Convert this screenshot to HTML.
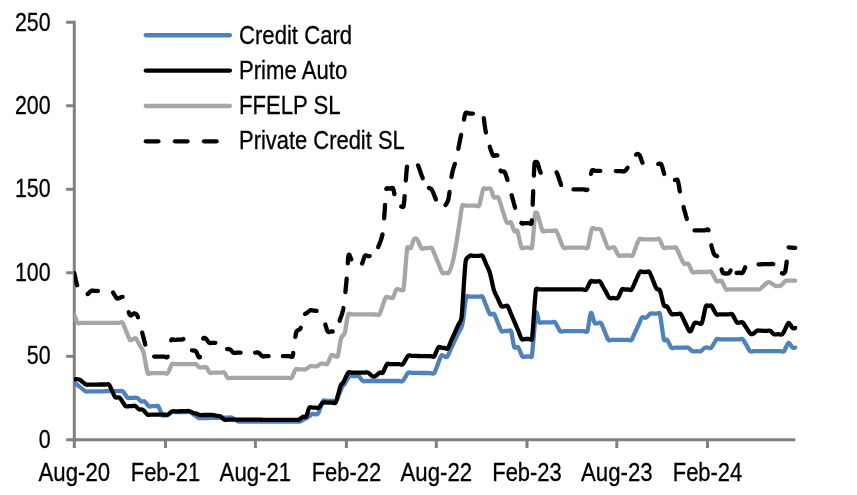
<!DOCTYPE html>
<html lang="en"><head><meta charset="utf-8"><title>ABS spreads</title>
<style>
html,body{margin:0;padding:0;background:#fff;}
svg{display:block;will-change:transform;}
text{font-family:"Liberation Sans",sans-serif;font-size:26.5px;fill:#000;stroke:#000;stroke-width:0.3px;}
</style></head><body>
<svg width="857" height="495" viewBox="0 0 857 495">
<rect width="857" height="495" fill="#fff"/>
<g stroke="#808080" stroke-width="3" fill="none">
<line x1="74.3" y1="20.75" x2="74.3" y2="448"/>
<line x1="66.2" y1="439.8" x2="795.3" y2="439.8"/>
<line x1="66.2" y1="22.25" x2="74.3" y2="22.25"/>
<line x1="66.2" y1="105.76" x2="74.3" y2="105.76"/>
<line x1="66.2" y1="189.27" x2="74.3" y2="189.27"/>
<line x1="66.2" y1="272.78" x2="74.3" y2="272.78"/>
<line x1="66.2" y1="356.29" x2="74.3" y2="356.29"/>
<line x1="165.50" y1="439.8" x2="165.50" y2="448"/>
<line x1="255.40" y1="439.8" x2="255.40" y2="448"/>
<line x1="346.40" y1="439.8" x2="346.40" y2="448"/>
<line x1="436.30" y1="439.8" x2="436.30" y2="448"/>
<line x1="527.00" y1="439.8" x2="527.00" y2="448"/>
<line x1="616.80" y1="439.8" x2="616.80" y2="448"/>
<line x1="707.50" y1="439.8" x2="707.50" y2="448"/>
</g>
<clipPath id="plot"><rect x="74" y="0" width="783" height="495"/></clipPath>
<g fill="none" stroke-linejoin="round" stroke-linecap="round" stroke-width="4.3" clip-path="url(#plot)">
<path stroke="#4F81BD" d="M74.3,382.6C75.0,383.1 77.1,384.8 78.4,385.8C79.7,386.8 80.8,387.6 82.0,388.6C83.2,389.5 84.4,390.8 85.6,391.3C86.8,391.8 87.8,391.3 89.0,391.3C90.1,391.3 91.2,391.3 92.3,391.3C93.4,391.3 94.5,391.3 95.7,391.3C96.8,391.3 97.9,391.3 99.0,391.3C100.1,391.3 101.3,391.3 102.4,391.3C103.5,391.3 104.6,391.2 105.7,391.2C106.8,391.2 108.0,391.2 109.1,391.2C110.2,391.2 111.3,391.2 112.4,391.2C113.6,391.2 114.7,391.2 115.8,391.2C116.9,391.2 118.0,391.2 119.1,391.2C120.3,391.2 121.5,390.7 122.5,391.2C123.5,391.7 124.3,393.4 125.2,394.5C126.0,395.6 126.8,397.2 127.8,397.8C128.8,398.4 129.9,397.8 130.9,397.8C132.0,397.8 133.0,397.8 134.1,397.8C135.1,397.8 136.0,397.2 137.2,397.8C138.4,398.4 140.2,400.9 141.4,401.5C142.6,402.1 143.4,400.7 144.6,401.5C145.8,402.3 147.6,405.4 148.8,406.2C150.0,407.0 150.9,406.2 151.9,406.2C153.0,406.2 154.0,406.2 155.1,406.2C156.1,406.2 157.2,405.0 158.2,406.2C159.4,407.7 161.3,413.7 162.4,415.2C163.2,416.3 164.2,415.2 165.1,415.2C165.9,415.2 166.6,415.7 167.7,415.2C168.8,414.7 170.6,412.5 171.9,412.0C173.2,411.5 174.3,412.0 175.5,412.0C176.6,412.0 177.8,412.0 179.0,412.0C180.2,412.0 181.4,412.0 182.6,412.0C183.8,412.0 185.0,412.0 186.1,412.0C187.3,412.0 188.6,411.7 189.7,412.0C190.8,412.3 191.8,413.4 192.9,414.0C193.9,414.7 195.0,415.4 196.0,416.1C197.1,416.7 198.1,417.8 199.2,418.1C200.3,418.4 201.6,418.1 202.8,418.0C204.0,418.0 205.2,418.0 206.4,418.0C207.6,418.0 208.8,418.0 210.0,417.9C211.2,417.9 212.4,417.9 213.6,417.9C214.8,417.9 215.9,417.8 217.1,417.8C218.3,417.8 219.5,417.8 220.7,417.8C221.9,417.7 223.1,417.7 224.3,417.7C225.5,417.7 226.7,417.7 227.9,417.7C229.1,417.6 230.3,417.3 231.5,417.6C232.7,417.9 233.8,418.9 235.0,419.6C236.2,420.2 237.3,421.2 238.5,421.5C239.7,421.8 240.8,421.5 241.9,421.5C243.0,421.5 244.2,421.5 245.3,421.5C246.5,421.5 247.6,421.5 248.7,421.5C249.9,421.5 251.0,421.5 252.1,421.5C253.3,421.5 254.4,421.5 255.6,421.5C256.7,421.5 257.8,421.5 259.0,421.5C260.1,421.5 261.2,421.5 262.4,421.5C263.5,421.5 264.7,421.5 265.8,421.5C266.9,421.5 268.1,421.5 269.2,421.5C270.3,421.5 271.5,421.5 272.6,421.5C273.7,421.5 274.9,421.5 276.0,421.5C277.2,421.5 278.3,421.5 279.4,421.5C280.6,421.5 281.7,421.5 282.8,421.5C284.0,421.5 285.1,421.5 286.3,421.5C287.4,421.5 288.5,421.5 289.7,421.5C290.8,421.5 291.9,421.5 293.1,421.5C294.2,421.5 295.4,421.5 296.5,421.5C297.6,421.5 298.7,421.8 299.9,421.5C301.1,421.2 302.3,420.2 303.5,419.6C304.8,419.0 306.1,418.3 307.2,417.7C308.2,417.1 309.0,416.4 309.9,415.8C310.7,415.2 311.2,414.2 312.5,413.9C313.8,413.6 316.4,415.0 317.7,413.9C319.0,412.8 319.5,409.6 320.4,407.4C321.2,405.2 322.0,402.0 323.0,400.9C324.0,399.8 325.2,400.9 326.3,400.9C327.4,400.9 328.5,400.9 329.6,400.9C330.8,400.9 331.9,400.9 333.0,400.9C334.1,400.9 335.2,402.1 336.3,400.9C337.4,399.7 338.3,396.1 339.4,393.7C340.4,391.3 341.6,388.1 342.4,386.5C343.1,385.2 343.5,385.5 344.4,384.2C345.6,382.5 348.2,377.5 349.6,376.1C350.7,375.0 351.6,376.1 352.6,376.1C353.6,376.1 354.7,376.1 355.7,376.1C356.7,376.1 357.5,375.3 358.7,376.1C359.9,376.9 361.6,380.2 362.9,381.0C364.2,381.8 365.3,381.0 366.5,381.0C367.7,381.0 368.9,381.0 370.2,381.0C371.4,381.0 372.6,381.0 373.8,381.0C375.0,381.0 376.2,381.0 377.4,381.0C378.6,381.0 379.8,381.0 381.0,381.0C382.2,381.0 383.5,381.0 384.7,381.0C385.9,381.0 387.1,381.0 388.3,381.0C389.5,381.0 390.7,381.0 391.9,381.0C393.1,381.0 394.3,381.0 395.5,381.0C396.8,381.0 398.0,381.0 399.2,381.0C400.4,381.0 401.5,382.2 402.8,381.0C404.3,379.6 406.6,374.2 408.0,372.8C409.2,371.7 410.2,372.8 411.3,372.8C412.4,372.9 413.5,372.9 414.6,372.9C415.6,372.9 416.7,372.9 417.8,372.9C418.9,372.9 420.0,372.9 421.1,373.0C422.2,373.0 423.3,373.0 424.4,373.0C425.5,373.0 426.6,373.0 427.6,373.0C428.7,373.0 429.8,373.1 430.9,373.1C432.0,373.1 433.2,374.4 434.2,373.1C435.3,371.7 436.6,367.3 437.8,364.4C438.9,361.5 440.2,357.1 441.3,355.7C442.2,354.5 443.3,356.0 444.2,356.2C445.2,356.4 446.2,357.8 447.2,356.7C448.3,355.4 449.7,351.3 451.0,348.6C452.3,345.9 453.5,343.2 454.8,340.4C456.1,337.7 457.3,335.0 458.6,332.3C459.9,329.6 461.5,328.6 462.4,324.2C463.7,318.3 465.1,301.3 466.3,296.7C466.7,295.1 468.5,296.7 469.5,296.7C470.6,296.7 471.7,296.7 472.8,296.7C473.9,296.7 474.9,296.7 476.0,296.7C477.1,296.7 478.2,296.7 479.3,296.7C480.3,296.7 481.5,295.4 482.5,296.7C483.6,298.1 484.9,302.5 486.1,305.4C487.4,308.2 488.5,312.6 489.8,314.0C491.1,315.4 492.7,312.6 494.0,314.0C495.3,315.4 496.5,319.7 497.7,322.5C498.9,325.3 500.2,329.6 501.4,331.0C502.4,332.2 503.5,331.0 504.6,331.0C505.7,331.0 506.7,331.0 507.8,331.0C508.9,331.0 510.4,329.5 511.0,331.0C512.1,333.7 513.2,344.6 514.4,347.3C515.2,349.0 517.0,345.9 518.2,347.3C519.5,348.8 521.2,355.0 522.4,356.5C523.4,357.7 524.5,356.5 525.5,356.5C526.6,356.5 527.6,356.5 528.7,356.5C529.7,356.5 531.5,358.0 531.8,356.5C533.0,349.3 534.8,319.2 536.0,313.5C537.0,308.9 538.1,320.8 539.2,322.3C540.1,323.6 541.3,322.3 542.4,322.3C543.4,322.3 544.5,322.3 545.5,322.3C546.6,322.3 547.6,322.3 548.7,322.3C549.7,322.3 550.8,322.3 551.8,322.3C552.9,322.3 553.9,321.1 555.0,322.3C556.4,323.8 558.8,329.7 560.2,331.2C561.4,332.4 562.5,331.2 563.6,331.2C564.7,331.2 565.9,331.2 567.0,331.2C568.1,331.2 569.3,331.2 570.4,331.2C571.5,331.2 572.7,331.2 573.8,331.2C574.9,331.2 576.1,331.2 577.2,331.2C578.3,331.2 579.5,331.2 580.6,331.2C581.7,331.2 582.9,331.2 584.0,331.2C585.1,331.2 586.8,332.8 587.4,331.2C588.5,328.2 589.7,314.4 590.9,313.0C592.1,311.6 593.5,321.4 594.7,323.1C595.6,324.4 596.8,323.1 597.9,323.1C598.9,323.1 600.0,321.9 601.0,323.1C602.1,324.5 603.5,328.7 604.7,331.5C605.9,334.3 607.2,338.5 608.4,339.9C609.5,341.2 610.6,339.9 611.7,339.9C612.8,339.9 613.9,339.9 615.0,339.9C616.1,339.9 617.2,339.9 618.3,339.9C619.4,339.9 620.5,339.9 621.6,339.9C622.7,339.9 623.8,339.9 624.9,339.9C626.0,339.9 627.1,339.9 628.2,339.9C629.3,339.9 630.4,341.1 631.5,339.9C632.6,338.7 633.8,334.9 635.0,332.5C636.2,330.0 637.3,327.5 638.5,325.0C639.7,322.6 640.7,318.8 642.0,317.6C643.3,316.4 644.8,318.3 646.2,317.6C647.6,316.9 649.2,314.3 650.4,313.6C651.6,312.9 652.5,313.6 653.5,313.6C654.6,313.6 655.6,313.6 656.7,313.6C657.7,313.6 659.4,312.1 659.8,313.6C661.0,318.0 662.8,335.5 664.0,339.9C664.4,341.4 666.1,338.7 667.2,339.9C668.4,341.2 670.1,346.4 671.4,347.7C672.6,348.9 673.6,347.7 674.8,347.7C675.9,347.7 677.0,347.7 678.1,347.7C679.2,347.7 680.4,347.7 681.5,347.7C682.6,347.7 683.7,347.7 684.8,347.7C686.0,347.7 686.9,347.1 688.2,347.7C689.5,348.3 691.0,350.6 692.4,351.2C693.8,351.8 695.2,351.2 696.6,351.2C698.0,351.2 699.4,351.8 700.8,351.2C702.2,350.6 703.8,348.3 705.0,347.7C706.2,347.1 707.1,347.7 708.1,347.7C709.2,347.7 710.2,348.8 711.3,347.7C712.7,346.3 715.1,340.7 716.5,339.3C717.7,338.1 718.7,339.3 719.8,339.3C720.9,339.3 722.0,339.3 723.1,339.3C724.2,339.3 725.3,339.3 726.4,339.3C727.5,339.3 728.6,339.3 729.6,339.3C730.7,339.3 731.8,339.3 732.9,339.3C734.0,339.3 735.1,339.3 736.2,339.3C737.3,339.3 738.4,339.3 739.5,339.3C740.6,339.3 741.6,338.3 742.8,339.3C744.0,340.3 745.2,343.3 746.5,345.2C747.7,347.2 748.9,350.2 750.1,351.2C751.3,352.2 752.4,351.2 753.5,351.2C754.6,351.2 755.8,351.2 756.9,351.2C758.0,351.2 759.1,351.2 760.3,351.2C761.4,351.2 762.5,351.2 763.7,351.2C764.8,351.2 765.9,351.2 767.0,351.2C768.2,351.2 769.3,351.2 770.4,351.2C771.6,351.2 772.7,351.2 773.8,351.2C775.0,351.2 776.1,351.2 777.2,351.2C778.4,351.2 779.5,351.2 780.6,351.2C781.7,351.2 782.8,352.4 784.0,351.2C785.3,349.8 787.1,343.5 788.5,342.9C789.9,342.3 791.3,346.8 792.4,347.6C793.5,348.4 794.7,347.6 795.2,347.6"/>
<path stroke="#000" d="M74.3,379.3C75.1,379.3 77.9,379.0 79.3,379.5C80.7,380.0 81.6,381.2 82.8,382.1C83.9,382.9 85.1,384.2 86.2,384.6C87.3,385.0 88.4,384.6 89.4,384.6C90.5,384.6 91.6,384.6 92.7,384.6C93.8,384.6 94.8,384.6 95.9,384.6C97.0,384.6 98.1,384.5 99.2,384.5C100.3,384.5 101.3,384.5 102.4,384.5C103.5,384.5 104.6,384.5 105.7,384.5C106.7,384.5 107.8,383.5 108.9,384.5C110.0,385.5 111.0,388.7 112.1,390.8C113.1,392.9 114.0,396.0 115.2,397.1C116.4,398.2 118.2,396.7 119.4,397.5C120.6,398.3 121.5,400.4 122.6,401.9C123.6,403.3 124.6,405.5 125.7,406.2C126.8,406.9 127.8,406.2 128.9,406.1C130.0,406.1 131.0,406.1 132.1,406.1C133.2,406.0 134.1,405.4 135.3,406.0C136.5,406.6 137.9,408.8 139.2,409.4C140.4,410.0 141.4,408.8 142.8,409.7C144.2,410.6 146.1,413.8 147.4,414.6C148.7,415.4 149.7,414.6 150.8,414.6C151.9,414.6 153.0,414.6 154.2,414.6C155.3,414.6 156.4,414.6 157.6,414.6C158.7,414.6 159.8,414.6 160.9,414.6C162.1,414.6 163.2,414.6 164.3,414.6C165.4,414.6 166.4,415.1 167.7,414.6C169.0,414.1 170.6,411.9 171.9,411.4C173.2,410.9 174.2,411.4 175.3,411.3C176.5,411.3 177.6,411.3 178.8,411.3C179.9,411.3 181.1,411.2 182.2,411.2C183.4,411.2 184.5,411.2 185.7,411.2C186.8,411.1 187.7,410.8 189.1,411.1C190.5,411.4 192.8,412.8 194.0,413.2C195.1,413.6 195.5,413.2 196.4,413.5C197.3,413.8 198.4,414.8 199.5,415.0C200.6,415.2 201.7,415.0 202.8,415.0C203.9,415.0 205.0,415.0 206.1,415.0C207.2,415.0 208.3,415.0 209.4,415.0C210.5,415.0 211.5,414.9 212.7,415.0C213.8,415.1 215.1,415.6 216.3,415.8C217.5,416.0 218.7,415.7 220.1,416.3C221.5,416.9 223.2,419.1 224.5,419.7C225.8,420.3 226.9,419.7 228.0,419.7C229.2,419.7 230.4,419.7 231.6,419.7C232.8,419.7 233.9,419.7 235.1,419.7C236.3,419.7 237.5,419.7 238.7,419.7C239.8,419.7 241.0,419.7 242.2,419.7C243.4,419.7 244.5,419.7 245.7,419.7C246.9,419.7 248.1,419.7 249.3,419.7C250.4,419.7 251.6,419.7 252.8,419.7C254.0,419.7 255.2,419.7 256.3,419.7C257.5,419.7 258.7,419.7 259.9,419.7C261.1,419.7 262.2,419.8 263.4,419.8C264.6,419.8 265.8,419.8 267.0,419.8C268.1,419.8 269.3,419.8 270.5,419.8C271.7,419.8 272.9,419.8 274.0,419.8C275.2,419.8 276.4,419.8 277.6,419.8C278.8,419.8 279.9,419.8 281.1,419.8C282.3,419.8 283.5,419.8 284.6,419.8C285.8,419.8 287.0,419.8 288.2,419.8C289.4,419.8 290.5,419.8 291.7,419.8C292.9,419.8 294.1,419.8 295.3,419.8C296.4,419.8 297.5,420.3 298.8,419.8C300.1,419.3 301.8,417.2 303.0,416.7C304.2,416.2 305.3,418.0 306.2,416.7C307.2,415.2 308.3,409.1 309.3,407.6C310.2,406.3 311.4,407.6 312.5,407.6C313.5,407.6 314.6,407.6 315.6,407.6C316.7,407.6 317.6,408.4 318.8,407.6C320.0,406.8 321.8,403.4 323.0,402.6C324.2,401.8 325.1,402.6 326.1,402.6C327.2,402.6 328.2,402.6 329.3,402.6C330.4,402.6 331.4,402.6 332.5,402.6C333.5,402.6 334.9,404.0 335.6,402.6C337.0,399.7 339.6,388.5 340.8,385.2C341.3,383.8 342.1,384.2 342.9,383.0C343.7,381.8 344.7,379.5 345.5,377.8C346.4,376.1 347.2,373.5 348.2,372.6C349.2,371.7 350.4,372.6 351.5,372.6C352.6,372.6 353.7,372.6 354.8,372.6C355.9,372.6 357.0,372.6 358.1,372.6C359.3,372.6 360.4,372.6 361.5,372.6C362.6,372.6 363.7,372.6 364.8,372.6C365.9,372.6 366.8,372.0 368.1,372.6C369.4,373.2 371.1,375.5 372.3,376.1C373.5,376.7 374.3,376.7 375.5,376.1C376.7,375.5 378.5,373.2 379.7,372.6C380.9,372.0 381.8,373.8 382.8,372.6C384.0,371.2 385.8,365.6 387.0,364.2C388.0,363.0 389.1,364.2 390.2,364.2C391.2,364.2 392.3,364.2 393.3,364.2C394.4,364.2 395.4,364.2 396.5,364.2C397.5,364.2 398.6,364.2 399.6,364.2C400.7,364.2 401.7,365.3 402.8,364.2C404.2,362.8 406.6,357.2 408.0,355.8C409.2,354.7 410.2,355.8 411.3,355.9C412.4,355.9 413.5,355.9 414.6,355.9C415.6,355.9 416.7,356.0 417.8,356.0C418.9,356.0 420.0,356.0 421.1,356.1C422.2,356.1 423.3,356.1 424.4,356.1C425.5,356.1 426.6,356.2 427.6,356.2C428.7,356.2 429.8,356.2 430.9,356.2C432.0,356.3 433.1,357.6 434.2,356.3C435.4,354.8 437.2,348.7 438.4,347.3C439.4,346.1 440.5,347.5 441.5,347.6C442.6,347.7 443.6,347.9 444.7,348.0C445.7,348.1 446.7,349.5 447.8,348.3C448.9,347.1 450.1,343.2 451.2,340.7C452.4,338.1 453.5,335.6 454.6,333.1C455.8,330.5 456.9,328.0 458.1,325.4C459.2,322.9 461.0,322.0 461.5,317.8C462.8,307.1 464.3,271.3 465.7,261.0C466.1,257.7 468.7,256.7 469.9,255.8C471.1,254.9 472.0,255.8 473.0,255.8C474.1,255.8 475.1,255.8 476.2,255.8C477.2,255.8 478.3,255.8 479.4,255.8C480.4,255.8 481.5,254.6 482.5,255.8C483.6,257.2 484.9,261.4 486.1,264.2C487.4,267.0 488.5,268.2 489.8,272.6C491.1,277.0 492.7,286.1 494.0,290.4C495.3,294.6 496.5,295.7 497.7,298.3C498.9,300.9 500.3,304.9 501.4,306.2C502.4,307.4 503.5,306.2 504.5,306.2C505.6,306.2 506.7,305.0 507.7,306.2C508.8,307.6 510.0,311.7 511.2,314.4C512.4,317.1 513.6,319.9 514.8,322.6C515.9,325.3 517.1,328.1 518.3,330.8C519.4,333.5 520.6,337.6 521.8,339.0C522.9,340.3 524.1,339.0 525.2,339.0C526.3,339.0 527.5,339.0 528.6,339.0C529.7,339.0 531.7,340.7 532.0,339.0C533.2,330.7 534.7,297.7 536.0,289.4C536.3,287.6 538.4,289.4 539.6,289.4C540.8,289.4 542.0,289.4 543.2,289.4C544.4,289.4 545.6,289.4 546.8,289.4C548.0,289.4 549.2,289.4 550.4,289.4C551.6,289.4 552.8,289.4 554.0,289.4C555.2,289.4 556.4,289.4 557.6,289.4C558.8,289.4 560.0,289.4 561.1,289.4C562.3,289.4 563.5,289.4 564.7,289.4C565.9,289.4 567.1,289.4 568.3,289.4C569.5,289.4 570.7,289.4 571.9,289.4C573.1,289.4 574.3,289.4 575.5,289.4C576.7,289.4 577.9,289.4 579.1,289.4C580.3,289.4 581.5,289.4 582.7,289.4C583.9,289.4 585.0,290.7 586.3,289.4C587.6,288.1 589.3,282.8 590.5,281.5C591.6,280.3 592.6,281.5 593.7,281.5C594.7,281.5 595.8,281.5 596.8,281.5C597.9,281.5 599.0,280.6 600.0,281.5C601.0,282.4 602.1,285.1 603.1,287.0C604.2,288.8 605.2,290.6 606.3,292.4C607.3,294.3 608.2,297.0 609.4,297.9C610.6,298.8 612.2,297.9 613.6,297.9C615.0,297.9 616.4,299.3 617.8,297.9C619.2,296.5 620.8,290.9 622.0,289.5C623.0,288.3 624.1,289.5 625.2,289.5C626.2,289.5 627.3,289.5 628.3,289.5C629.4,289.5 630.5,290.7 631.5,289.5C632.7,288.0 634.3,283.7 635.7,280.8C637.1,277.8 638.7,273.5 639.9,272.0C640.9,270.8 642.0,272.0 643.0,272.0C644.1,272.0 645.1,272.0 646.2,272.0C647.2,272.0 648.3,270.8 649.3,272.0C650.4,273.4 651.8,277.6 653.0,280.4C654.2,283.3 655.6,287.3 656.7,288.9C657.7,290.2 659.2,288.4 659.8,289.9C661.0,292.7 662.8,302.9 664.0,305.7C664.7,307.2 666.1,305.4 667.2,306.7C668.4,308.1 670.2,312.9 671.4,314.1C672.5,315.2 673.5,314.1 674.5,314.1C675.6,314.1 676.6,314.1 677.7,314.1C678.7,314.1 679.8,312.9 680.8,314.1C682.0,315.5 683.6,319.7 685.0,322.5C686.4,325.3 688.2,329.5 689.2,330.9C689.7,331.6 690.4,331.6 690.9,330.9C691.8,329.6 693.3,324.4 694.5,323.1C695.7,321.8 696.9,323.1 698.1,323.1C699.4,323.1 701.0,324.8 701.8,323.1C703.1,320.2 704.8,308.8 706.0,305.9C706.5,304.6 707.8,305.9 708.8,305.9C709.7,305.9 710.6,304.9 711.5,305.9C712.8,307.3 715.1,312.9 716.5,314.3C717.6,315.4 718.6,314.3 719.6,314.3C720.7,314.3 721.7,314.3 722.8,314.3C723.8,314.3 724.9,314.3 725.9,314.3C727.0,314.3 728.0,314.3 729.1,314.3C730.1,314.3 731.1,313.2 732.2,314.3C733.5,315.7 735.7,321.1 737.0,322.5C738.0,323.5 738.9,322.5 739.9,322.5C740.8,322.5 741.6,321.6 742.7,322.5C743.8,323.4 745.3,326.3 746.6,328.1C747.9,330.0 749.4,332.9 750.5,333.8C751.4,334.6 751.9,334.3 753.0,333.8C754.1,333.3 755.8,331.2 757.0,330.7C758.2,330.2 759.2,330.7 760.4,330.7C761.5,330.7 762.6,330.7 763.7,330.8C764.8,330.8 765.9,330.8 767.0,330.8C768.2,330.8 769.3,330.2 770.4,330.8C771.5,331.4 772.6,333.6 773.9,334.2C775.2,334.8 776.7,334.2 778.1,334.2C779.5,334.2 781.1,335.1 782.3,334.2C783.5,333.2 784.4,330.4 785.5,328.5C786.6,326.6 787.6,322.9 788.7,322.8C789.9,322.7 791.3,327.0 792.4,327.9C793.5,328.8 794.7,328.0 795.2,328.0"/>
<path stroke="#A6A6A6" d="M74.3,314.8C74.9,316.1 76.6,321.5 77.7,322.8C78.8,324.1 80.0,322.8 81.1,322.8C82.3,322.8 83.4,322.8 84.6,322.8C85.7,322.8 86.9,322.8 88.0,322.8C89.2,322.8 90.3,322.8 91.5,322.8C92.6,322.8 93.8,322.8 94.9,322.8C96.1,322.8 97.2,322.8 98.4,322.8C99.5,322.8 100.7,322.8 101.8,322.8C103.0,322.8 104.1,322.8 105.3,322.8C106.4,322.8 107.6,322.8 108.7,322.8C109.9,322.8 111.0,322.8 112.2,322.8C113.3,322.8 114.5,322.8 115.6,322.8C116.8,322.8 117.9,322.8 119.1,322.8C120.2,322.8 121.4,321.5 122.5,322.8C123.7,324.2 125.0,328.5 126.2,331.3C127.4,334.1 128.8,338.5 129.9,339.8C130.9,341.0 131.9,339.4 132.9,339.1C134.0,338.9 134.9,337.4 136.0,338.5C137.1,339.6 138.5,343.1 139.8,345.4C141.0,347.8 142.4,348.6 143.5,352.4C144.8,357.0 146.4,369.7 147.7,373.2C148.3,374.8 149.9,373.2 151.0,373.2C152.1,373.2 153.3,373.2 154.4,373.2C155.5,373.2 156.6,373.2 157.7,373.2C158.8,373.2 159.9,373.2 161.0,373.2C162.1,373.2 163.3,373.2 164.4,373.2C165.5,373.2 166.6,374.5 167.7,373.2C169.0,371.7 170.6,365.7 171.9,364.2C173.0,362.9 174.2,364.2 175.3,364.2C176.5,364.2 177.6,364.2 178.8,364.2C179.9,364.2 181.1,364.2 182.2,364.2C183.4,364.2 184.5,364.2 185.7,364.2C186.8,364.2 188.0,364.2 189.1,364.2C190.3,364.2 191.4,364.2 192.6,364.2C193.7,364.2 194.9,363.7 196.0,364.2C197.1,364.7 198.1,366.8 199.2,367.3C200.3,367.8 201.6,367.3 202.8,367.3C204.1,367.3 205.4,366.4 206.5,367.3C207.6,368.2 208.6,371.7 209.7,372.6C210.8,373.5 212.2,372.6 213.4,372.6C214.6,372.6 215.8,372.6 217.1,372.6C218.3,372.6 219.5,372.6 220.7,372.6C221.9,372.6 223.3,371.7 224.4,372.6C225.5,373.5 226.4,376.9 227.5,377.8C228.6,378.7 229.9,377.8 231.1,377.8C232.2,377.8 233.4,377.8 234.6,377.8C235.8,377.8 237.0,377.8 238.2,377.8C239.4,377.8 240.5,377.8 241.7,377.8C242.9,377.8 244.1,377.8 245.3,377.8C246.5,377.8 247.6,377.8 248.8,377.8C250.0,377.8 251.2,377.8 252.4,377.8C253.6,377.8 254.8,377.8 255.9,377.8C257.1,377.8 258.3,377.8 259.5,377.8C260.7,377.8 261.9,377.8 263.1,377.8C264.2,377.8 265.4,377.8 266.6,377.8C267.8,377.8 269.0,377.8 270.2,377.8C271.4,377.8 272.5,377.8 273.7,377.8C274.9,377.8 276.1,377.8 277.3,377.8C278.5,377.8 279.6,377.8 280.8,377.8C282.0,377.8 283.2,377.8 284.4,377.8C285.6,377.8 286.8,377.8 287.9,377.8C289.1,377.8 290.3,379.1 291.5,377.8C292.8,376.4 294.5,370.8 295.7,369.4C296.7,368.2 297.8,369.4 298.8,369.4C299.9,369.4 300.9,369.4 302.0,369.4C303.0,369.4 304.1,369.7 305.1,369.4C306.1,369.1 306.9,368.4 307.8,367.9C308.6,367.3 309.4,366.6 310.4,366.3C311.4,366.0 312.5,366.3 313.5,366.3C314.6,366.3 315.5,366.7 316.7,366.3C317.9,365.9 319.7,364.1 320.9,363.7C322.1,363.3 323.1,363.8 324.1,363.8C325.2,363.8 326.4,365.1 327.4,363.9C328.6,362.5 330.1,356.7 331.3,355.3C332.4,354.1 333.4,355.6 334.5,355.8C335.6,355.9 337.1,357.7 337.7,356.2C338.8,353.2 340.0,341.9 341.2,338.0C342.1,335.1 343.8,335.9 344.7,333.0C345.9,329.1 347.0,317.4 348.2,314.3C348.8,312.7 350.5,314.3 351.7,314.3C352.8,314.3 354.0,314.3 355.1,314.3C356.3,314.4 357.4,314.4 358.6,314.4C359.8,314.4 360.9,314.4 362.1,314.4C363.2,314.4 364.4,314.4 365.5,314.4C366.7,314.4 367.8,314.4 369.0,314.4C370.2,314.4 371.3,314.4 372.5,314.5C373.6,314.5 374.8,314.5 375.9,314.5C377.1,314.5 378.3,315.9 379.4,314.5C380.5,313.1 381.5,308.8 382.5,306.0C383.6,303.2 384.6,298.9 385.7,297.5C386.8,296.1 388.1,297.5 389.4,297.5C390.6,297.5 391.9,298.8 393.0,297.5C394.1,296.2 395.1,290.9 396.2,289.6C397.3,288.3 398.6,289.6 399.9,289.6C401.1,289.6 403.2,291.4 403.5,289.6C404.7,282.6 406.1,254.6 407.3,247.6C407.6,245.8 409.8,249.2 410.9,247.8C412.0,246.4 412.9,240.6 414.0,239.2C415.0,237.9 416.2,238.2 417.2,239.4C418.4,240.9 420.1,246.8 421.4,248.3C422.6,249.6 423.7,248.3 424.9,248.2C426.1,248.2 427.2,248.2 428.4,248.2C429.6,248.1 430.8,246.8 431.9,248.1C433.1,249.5 434.2,253.6 435.4,256.3C436.6,259.1 437.7,261.8 438.9,264.6C440.1,267.3 441.3,271.4 442.4,272.8C443.4,274.0 444.5,272.8 445.5,272.8C446.6,272.8 447.8,274.1 448.7,272.8C449.8,271.3 451.0,268.3 452.2,264.0C453.4,259.7 454.5,253.5 455.7,247.0C456.9,240.5 458.1,231.9 459.2,225.0C460.3,218.1 461.2,208.9 462.3,205.7C462.8,204.1 464.5,205.7 465.7,205.7C466.8,205.7 467.9,205.7 469.0,205.7C470.1,205.7 471.3,205.7 472.4,205.7C473.5,205.7 474.6,205.7 475.7,205.7C476.9,205.7 478.4,207.2 479.1,205.7C480.4,202.9 482.0,191.7 483.3,188.9C484.1,187.2 485.8,188.9 487.0,188.9C488.2,188.9 489.6,187.5 490.7,188.9C491.8,190.3 492.6,195.9 493.8,197.3C495.1,198.7 497.0,195.7 498.2,197.5C499.6,199.6 501.1,205.8 502.5,210.0C503.9,214.2 505.4,220.4 506.8,222.5C508.0,224.2 509.8,221.1 511.0,222.5C512.2,223.9 513.2,229.5 514.2,230.9C515.1,232.1 516.7,229.5 517.3,230.9C518.5,233.7 520.2,244.9 521.5,247.7C522.2,249.3 523.8,247.7 525.0,247.7C526.2,247.7 527.3,247.7 528.5,247.7C529.7,247.7 531.7,249.4 532.0,247.7C533.1,241.9 534.3,218.7 535.2,213.0C535.4,211.9 536.9,212.5 537.3,213.5C538.5,216.5 541.1,228.0 542.5,230.9C543.3,232.4 544.8,230.9 545.9,230.9C547.1,230.9 548.2,230.9 549.4,230.9C550.5,230.9 551.6,230.9 552.8,230.9C553.9,230.9 555.1,229.6 556.2,230.9C557.4,232.3 558.6,236.5 559.9,239.3C561.1,242.1 562.3,246.3 563.5,247.7C564.6,249.0 565.8,247.7 567.0,247.7C568.1,247.7 569.3,247.7 570.4,247.7C571.6,247.7 572.7,247.7 573.9,247.7C575.0,247.7 576.2,247.7 577.3,247.7C578.5,247.7 579.6,247.7 580.8,247.7C581.9,247.7 583.1,247.7 584.2,247.7C585.4,247.7 587.1,249.3 587.7,247.7C589.0,244.5 590.5,231.9 591.9,228.8C592.8,226.8 594.8,229.1 596.2,229.2C597.7,229.3 599.3,228.0 600.6,229.6C601.9,231.2 603.1,235.7 604.3,238.7C605.5,241.7 606.9,246.3 608.0,247.8C608.9,249.0 610.1,247.7 611.1,247.7C612.1,247.6 613.1,246.4 614.2,247.5C615.5,248.8 617.3,254.2 618.6,255.5C619.8,256.7 620.9,255.5 622.1,255.5C623.2,255.5 624.4,255.5 625.5,255.5C626.7,255.5 627.9,255.5 629.0,255.5C630.2,255.5 631.4,256.8 632.5,255.5C633.6,254.2 634.7,250.1 635.8,247.4C636.9,244.7 638.0,240.7 639.1,239.3C640.2,238.0 641.4,239.3 642.5,239.3C643.6,239.3 644.8,239.3 645.9,239.3C647.0,239.3 648.2,239.3 649.3,239.3C650.4,239.3 651.6,239.3 652.7,239.3C653.8,239.3 655.0,239.3 656.1,239.3C657.2,239.3 658.4,238.0 659.5,239.3C660.7,240.7 662.3,246.3 663.5,247.7C664.5,248.9 665.6,247.7 666.6,247.7C667.7,247.7 668.7,247.7 669.8,247.7C670.8,247.7 671.8,247.7 672.9,247.7C673.9,247.7 675.0,246.5 676.0,247.7C677.2,249.0 678.7,253.0 680.0,255.7C681.3,258.4 682.6,262.4 684.0,263.7C685.4,265.0 686.8,262.3 688.2,263.7C689.6,265.1 691.1,270.6 692.4,272.0C693.7,273.4 694.9,272.0 696.2,272.0C697.4,272.0 698.7,272.0 700.0,272.0C701.2,272.0 702.5,272.0 703.7,272.0C705.0,272.0 706.3,272.0 707.5,272.0C708.8,272.0 710.0,270.7 711.3,272.0C712.8,273.5 715.2,279.6 716.5,281.1C717.4,282.1 718.3,281.1 719.1,281.1C720.0,281.1 721.0,280.1 721.8,281.1C722.9,282.5 724.7,287.9 726.0,289.3C727.1,290.5 728.2,289.3 729.4,289.3C730.5,289.3 731.6,289.3 732.7,289.3C733.8,289.3 735.0,289.3 736.1,289.3C737.2,289.3 738.3,289.3 739.4,289.3C740.6,289.3 741.7,289.3 742.8,289.3C743.9,289.3 745.0,289.3 746.2,289.3C747.3,289.3 748.4,289.3 749.5,289.3C750.6,289.3 751.8,289.3 752.9,289.3C754.0,289.3 755.1,289.3 756.2,289.3C757.4,289.3 758.4,289.9 759.6,289.3C760.8,288.7 762.2,287.0 763.5,285.9C764.9,284.8 766.4,283.1 767.5,282.5C768.6,281.9 768.9,282.0 770.1,282.5C771.4,283.1 774.0,285.3 775.3,285.9C776.5,286.4 777.1,285.9 778.0,285.9C778.8,285.9 779.7,286.3 780.6,285.9C781.5,285.5 782.4,284.2 783.2,283.3C784.1,282.4 784.9,281.1 785.9,280.7C786.9,280.3 788.0,280.7 789.0,280.7C790.0,280.7 791.1,280.7 792.1,280.7C793.1,280.7 794.7,280.7 795.2,280.7"/>
<g stroke="#000">
<polyline points="74.3,273.2 74.4,273.4 74.4,273.6 74.5,273.9 74.5,274.2 74.6,274.5 74.7,274.8 74.8,275.2 74.8,275.6 74.9,275.9 75.0,276.4 75.1,276.8 75.2,277.2 75.3,277.6 75.4,278.1 75.5,278.5 75.6,279.0 75.7,279.5 75.8,280.0 75.9,280.4 76.0,280.9 76.1,281.4 76.2,281.8 76.4,282.3 76.5,282.8 76.6,283.2 76.7,283.7 76.8,284.1 76.9,284.5 77.0,285.0 77.1,285.2"/>
<polyline points="87.6,294.1 87.9,293.9 88.2,293.7 88.5,293.4 88.8,293.1 89.1,292.8 89.4,292.5 89.7,292.1 90.0,291.8 90.3,291.5 90.6,291.2 90.9,291.0 91.2,290.8 91.6,290.7 92.0,290.6 92.4,290.6 92.8,290.6 93.2,290.7 93.6,290.8 94.1,290.8 94.5,290.9 94.9,290.9 95.3,290.9 95.7,290.9 96.1,290.9 96.5,290.9 96.9,290.9 97.3,290.9 97.7,291.0 97.9,291.0"/>
<polyline points="113.0,292.5 113.2,292.8 113.4,293.2 113.7,293.6 113.9,294.0 114.2,294.4 114.4,294.8 114.7,295.2 114.9,295.6 115.2,296.0 115.4,296.4 115.6,296.7 115.9,297.1 116.1,297.4 116.3,297.7 116.5,297.9 116.7,298.1 117.0,298.4 117.5,298.5 117.9,298.6 118.3,298.4 118.7,298.3 119.1,298.0 119.5,297.9 119.9,297.8 120.3,297.6 120.7,297.4 121.2,297.2 121.6,297.0 122.0,296.8 122.4,296.9 122.6,296.9"/>
<polyline points="128.7,312.2 128.8,312.6 129.0,313.0 129.1,313.4 129.3,313.7 129.4,314.0 129.6,314.3 129.7,314.6 129.9,314.8 130.0,315.0 130.2,315.2 130.6,315.4 130.9,315.5 131.3,315.4 131.7,315.1 132.0,314.8 132.4,314.5 132.8,314.1 133.2,313.8 133.5,313.5 133.9,313.3 134.2,313.3 134.5,313.4 134.9,313.4 135.2,313.6 135.6,313.7 135.9,313.9 136.2,314.2 136.5,314.5 136.8,314.8 137.1,315.2 137.4,315.7 137.6,316.1 137.7,316.4 137.8,316.6 137.9,316.9 138.0,317.2 138.0,317.4"/>
<polyline points="142.2,332.6 142.3,333.0 142.4,333.4 142.5,333.8 142.6,334.2 142.7,334.6 142.8,334.9 142.9,335.3 143.0,335.7 143.1,336.1 143.2,336.5 143.3,336.9 143.4,337.3 143.5,337.7 143.6,338.1 143.7,338.5 143.8,338.9 143.9,339.2 144.0,339.6 144.1,340.0 144.2,340.4 144.3,340.8 144.4,341.2 144.5,341.6 144.6,342.0 144.7,342.3 144.8,342.7 144.9,343.1 145.0,343.5 145.1,343.9 145.2,344.3 145.3,344.5"/>
<polyline points="154.1,356.6 154.5,356.6 154.9,356.6 155.3,356.6 155.7,356.6 156.2,356.6 156.6,356.6 157.0,356.6 157.4,356.6 157.8,356.6 158.2,356.6 158.7,356.6 159.1,356.6 159.5,356.6 159.9,356.6 160.3,356.6 160.8,356.6 161.2,356.6 161.6,356.6 162.0,356.6 162.4,356.6 162.9,356.6 163.3,356.6 163.7,356.6 164.1,356.6 164.6,356.7 165.1,356.9 165.5,357.1 166.0,357.2 166.4,357.4 166.9,357.4 167.2,357.2 167.6,356.9 167.7,356.6"/>
<polyline points="171.1,340.3 171.2,340.1 171.3,339.7 171.6,339.4 172.0,339.3 172.4,339.3 172.9,339.4 173.3,339.5 173.8,339.7 174.2,339.8 174.6,339.9 175.1,339.8 175.5,339.8 175.9,339.8 176.3,339.8 176.7,339.8 177.1,339.7 177.5,339.7 177.9,339.7 178.3,339.7 178.7,339.7 179.1,339.7 179.5,339.6 179.9,339.6 180.3,339.6 180.7,339.6 181.1,339.6 181.6,339.5 182.0,339.5 182.4,339.4 182.8,339.3 183.2,339.2 183.4,339.1"/>
<polyline points="191.9,350.3 192.3,350.3 192.7,350.4 193.1,350.4 193.4,350.6 193.8,350.6 194.2,350.7 194.6,350.7 195.0,350.8 195.4,351.0 195.8,351.3 196.1,351.6 196.3,351.9 196.5,352.3 196.8,352.8 197.0,353.3 197.2,353.9 197.5,354.5 197.7,355.1 198.0,355.6 198.2,356.1 198.5,356.6 198.7,357.0 199.0,357.2 199.2,357.4 199.4,357.4 199.7,357.3 199.9,357.0 200.0,356.8 200.0,356.8"/>
<polyline points="203.2,338.6 203.3,338.4 203.5,338.0 203.9,337.8 204.3,337.8 204.7,337.9 205.2,338.2 205.7,338.5 205.9,338.7 206.2,338.9 206.4,339.2 206.7,339.6 206.9,339.9 207.2,340.3 207.5,340.7 207.7,341.1 208.0,341.5 208.3,341.8 208.5,342.1 208.8,342.4 209.1,342.6 209.4,342.8 209.8,343.0 210.3,343.0 210.7,343.0 211.1,343.0 211.5,342.9 211.9,342.8 212.3,342.8 212.7,342.8 213.1,342.8 213.6,342.8 214.0,342.8 214.4,342.8 214.8,342.8 215.2,342.8 215.4,342.8"/>
<polyline points="227.0,349.1 227.4,349.1 227.8,349.1 228.2,349.1 228.6,349.0 229.0,349.1 229.4,349.1 229.8,349.3 230.1,349.5 230.4,349.7 230.7,350.0 231.0,350.3 231.3,350.6 231.6,351.0 231.9,351.3 232.2,351.6 232.5,351.9 232.8,352.2 233.1,352.4 233.4,352.6 233.7,352.8 234.1,352.9 234.6,352.9 235.0,352.9 235.4,352.9 235.8,352.8 236.2,352.8 236.6,352.7 237.1,352.7 237.5,352.7 237.9,352.7 238.3,352.7 238.7,352.7 239.1,352.7 239.6,352.7 240.0,352.7 240.4,352.7 240.6,352.7"/>
<polyline points="255.1,352.7 255.5,352.7 255.9,352.6 256.3,352.5 256.7,352.5 257.1,352.4 257.5,352.5 258.0,352.5 258.4,352.7 258.7,352.9 259.0,353.1 259.3,353.3 259.6,353.6 259.9,354.0 260.2,354.3 260.5,354.6 260.8,354.9 261.1,355.3 261.4,355.6 261.7,355.8 262.0,356.0 262.3,356.2 262.7,356.4 263.2,356.4 263.6,356.5 264.0,356.4 264.4,356.4 264.8,356.3 265.2,356.2 265.7,356.2 266.1,356.2 266.5,356.2 266.9,356.2 267.4,356.2 267.8,356.2 268.2,356.2 268.6,356.2 268.6,356.2"/>
<polyline points="282.9,356.2 283.3,356.2 283.8,356.2 284.2,356.2 284.6,356.2 285.0,356.2 285.4,356.2 285.9,356.2 286.3,356.2 286.7,356.2 287.1,356.2 287.6,356.2 288.0,356.2 288.4,356.2 288.8,356.2 289.2,356.2 289.7,356.3 290.2,356.4 290.7,356.6 291.2,356.8 291.6,356.9 292.0,356.9 292.4,356.7 292.6,356.2 292.7,356.0 292.7,355.8 292.8,355.5 292.8,355.3 292.9,355.0 292.9,354.7 293.0,354.4 293.1,354.1 293.1,353.7 293.2,353.4 293.2,353.0 293.2,353.0"/>
<polyline points="295.3,336.9 295.4,336.4 295.5,336.0 295.5,335.7 295.6,335.3 295.7,334.9 295.7,334.6 295.8,334.2 295.9,333.9 295.9,333.6 296.0,333.3 296.1,333.0 296.1,332.7 296.2,332.5 296.4,332.0 296.6,331.5 296.8,331.1 297.1,330.8 297.4,330.6 297.7,330.4 298.0,330.2 298.3,330.1 298.7,329.9 299.0,329.7 299.3,329.5 299.6,329.3 300.0,329.0 300.3,328.7 300.5,328.3 300.8,327.8 300.8,327.8"/>
<polyline points="305.0,314.0 305.3,313.7 305.6,313.5 306.0,313.3 306.3,313.2 306.6,313.0 307.0,312.9 307.3,312.6 307.6,312.4 307.9,312.1 308.2,311.8 308.6,311.5 308.9,311.2 309.2,311.0 309.5,310.7 309.8,310.5 310.1,310.4 310.5,310.2 310.9,310.2 311.3,310.2 311.7,310.2 312.1,310.3 312.5,310.4 312.9,310.5 313.3,310.6 313.7,310.6 314.1,310.7 314.5,310.7 314.9,310.7 315.4,310.8 315.8,310.8 316.2,310.8 316.6,310.9 316.6,310.9"/>
<polyline points="325.4,324.5 325.5,325.0 325.6,325.4 325.7,325.9 325.9,326.3 326.0,326.7 326.1,327.2 326.2,327.6 326.4,328.0 326.5,328.4 326.6,328.8 326.7,329.2 326.9,329.5 327.0,329.9 327.1,330.2 327.2,330.5 327.4,330.7 327.5,331.0 327.6,331.2 327.9,331.5 328.3,331.9 328.7,332.0 329.1,332.1 329.5,332.0 329.9,331.9 330.3,331.7 330.8,331.5 331.2,331.4 331.6,331.3 332.1,331.3 332.5,331.4 332.7,331.5"/>
<polyline points="339.6,320.7 339.7,320.4 339.8,320.0 339.9,319.7 340.1,319.3 340.2,319.0 340.3,318.7 340.4,318.4 340.5,318.1 340.6,317.8 340.8,317.4 340.9,317.1 341.0,316.8 341.1,316.5 341.2,316.2 341.4,315.8 341.5,315.5 341.6,315.2 341.7,314.8 341.8,314.5 342.0,314.1 342.1,313.7 342.2,313.3 342.3,312.9 342.4,312.5 342.5,312.1 342.7,311.6 342.8,311.2 342.9,310.7 343.0,310.2 343.1,309.7 343.2,309.1 343.3,308.6 343.4,308.0 343.4,308.0"/>
<polyline points="345.4,292.2 345.4,291.7 345.5,291.3 345.5,290.8 345.5,290.4 345.6,290.0 345.6,289.5 345.7,289.1 345.7,288.7 345.8,288.2 345.8,287.8 345.9,287.3 345.9,286.9 345.9,286.5 346.0,286.1 346.0,285.6 346.1,285.2 346.1,284.8 346.1,284.4 346.2,284.0 346.2,283.5 346.3,283.1 346.3,282.7 346.3,282.3 346.4,281.9 346.4,281.5 346.5,281.1 346.5,280.7 346.5,280.4 346.6,280.0 346.6,279.6 346.6,279.2 346.7,278.9 346.7,278.7"/>
<polyline points="347.8,263.4 347.8,263.0 347.8,262.6 347.9,262.1 347.9,261.7 347.9,261.3 347.9,260.9 348.0,260.6 348.0,260.2 348.0,259.8 348.1,259.5 348.1,259.1 348.1,258.8 348.1,258.4 348.2,258.1 348.2,257.8 348.2,257.5 348.3,257.2 348.3,256.9 348.3,256.7 348.4,256.4 348.4,256.2 348.4,256.0 348.5,255.8 348.5,255.6 348.6,255.4 348.6,255.2 348.8,254.8 348.9,254.6 349.1,254.6 349.3,254.8 349.5,255.2 349.7,255.6 349.9,256.2 350.2,256.8 350.4,257.5 350.7,258.1 350.9,258.7 351.2,259.2 351.3,259.4"/>
<polyline points="362.1,263.5 362.2,263.2 362.4,262.9 362.5,262.5 362.7,262.1 362.8,261.6 363.0,261.2 363.1,260.7 363.2,260.2 363.4,259.8 363.5,259.3 363.7,258.8 363.8,258.4 363.9,257.9 364.1,257.5 364.2,257.1 364.4,256.8 364.5,256.5 364.7,256.2 364.8,256.0 365.2,255.6 365.6,255.5 366.0,255.5 366.4,255.5 366.8,255.7 367.2,255.9 367.7,256.0 368.1,256.1 368.5,256.1 368.9,256.1 369.3,256.1 369.7,256.1 369.7,256.1"/>
<polyline points="378.2,247.1 378.3,246.8 378.4,246.5 378.5,246.2 378.7,245.9 378.8,245.5 378.9,245.2 379.1,244.9 379.2,244.5 379.3,244.2 379.5,243.9 379.6,243.5 379.8,243.2 379.9,242.8 380.0,242.4 380.2,242.1 380.3,241.7 380.5,241.3 380.6,241.0 380.7,240.6 380.9,240.2 381.0,239.8 381.1,239.4 381.3,239.0 381.4,238.6 381.5,238.1 381.7,237.7 381.8,237.3 381.9,236.8 382.0,236.4 382.1,235.9 382.3,235.5 382.4,235.0 382.5,234.5 382.5,234.3"/>
<polyline points="384.1,218.3 384.2,217.9 384.2,217.5 384.2,217.0 384.3,216.6 384.3,216.2 384.3,215.8 384.3,215.3 384.4,214.9 384.4,214.5 384.4,214.1 384.5,213.7 384.5,213.2 384.5,212.8 384.6,212.4 384.6,212.0 384.6,211.6 384.7,211.2 384.7,210.8 384.7,210.4 384.8,210.0 384.8,209.5 384.8,209.1 384.8,208.7 384.9,208.2 384.9,207.8 384.9,207.3 384.9,206.9 385.0,206.4 385.0,206.0 385.0,205.5 385.0,205.0 385.0,205.0"/>
<polyline points="386.3,189.0 386.4,188.6 386.6,188.3 387.0,188.1 387.4,188.1 387.9,188.3 388.4,188.4 389.0,188.6 389.4,188.6 389.9,188.6 390.3,188.5 390.8,188.2 391.3,188.0 391.7,187.8 392.2,187.8 392.5,187.8 392.9,188.1 393.0,188.5 393.1,188.7 393.2,189.0 393.3,189.2 393.4,189.5 393.5,189.8 393.5,190.2 393.6,190.5 393.7,190.9 393.8,191.3 393.9,191.7 394.0,192.1 394.1,192.5 394.2,192.9 394.3,193.4 394.3,193.8 394.4,194.1"/>
<polyline points="401.2,206.5 401.8,206.7 402.3,206.9 402.7,207.0 403.1,207.0 403.4,206.8 403.6,206.3 403.6,206.1 403.7,205.9 403.7,205.6 403.7,205.4 403.8,205.2 403.8,204.9 403.8,204.6 403.9,204.4 403.9,204.1 403.9,203.8 404.0,203.5 404.0,203.1 404.0,202.8 404.1,202.5 404.1,202.1 404.1,201.8 404.2,201.4 404.2,201.1 404.3,200.7 404.3,200.3 404.3,199.9 404.4,199.5 404.4,199.1 404.4,198.7 404.5,198.3 404.5,197.9 404.5,197.4 404.6,197.0 404.6,196.6 404.6,196.1 404.6,196.1"/>
<polyline points="405.8,180.6 405.8,180.1 405.9,179.6 405.9,179.1 405.9,178.6 406.0,178.1 406.0,177.7 406.1,177.2 406.1,176.7 406.1,176.3 406.2,175.8 406.2,175.4 406.2,174.9 406.3,174.5 406.3,174.0 406.3,173.6 406.4,173.2 406.4,172.7 406.4,172.3 406.5,171.9 406.5,171.5 406.6,171.1 406.6,170.7 406.6,170.3 406.7,169.9 406.7,169.6 406.7,169.2 406.8,168.8 406.8,168.5 406.8,168.2 406.9,167.8 406.9,167.5 406.9,167.2 407.0,166.9 407.0,166.7"/>
<polyline points="418.0,165.4 418.2,165.7 418.3,166.0 418.4,166.4 418.6,166.7 418.7,167.1 418.9,167.5 419.0,167.8 419.1,168.2 419.3,168.6 419.4,169.1 419.6,169.5 419.7,169.9 419.9,170.3 420.0,170.8 420.2,171.2 420.3,171.7 420.5,172.1 420.6,172.5 420.7,173.0 420.9,173.4 421.0,173.8 421.2,174.2 421.3,174.6 421.5,175.0 421.6,175.4 421.8,175.8 421.9,176.1 422.1,176.5 422.3,176.9 422.4,177.4 422.6,177.8 422.7,178.2 422.7,178.2"/>
<polyline points="428.9,187.9 429.3,188.1 429.6,188.3 430.0,188.4 430.3,188.6 430.7,188.7 431.0,189.0 431.4,189.3 431.7,189.7 432.0,190.0 432.1,190.3 432.3,190.6 432.4,190.9 432.6,191.2 432.7,191.5 432.9,191.9 433.1,192.3 433.2,192.6 433.4,193.0 433.5,193.4 433.7,193.8 433.8,194.3 434.0,194.7 434.2,195.1 434.3,195.5 434.5,195.9 434.6,196.3 434.8,196.7 435.0,197.1 435.1,197.5 435.3,197.9 435.4,198.3 435.6,198.7 435.8,199.1 435.9,199.5 435.9,199.5"/>
<polyline points="445.5,205.0 445.6,204.8 445.8,204.5 446.0,204.3 446.2,204.0 446.4,203.7 446.6,203.4 446.8,203.1 447.0,202.7 447.2,202.4 447.4,202.0 447.6,201.5 447.7,201.1 447.9,200.6 448.1,200.1 448.2,199.6 448.4,199.1 448.5,198.5 448.6,198.2 448.6,198.0 448.7,197.7 448.7,197.4 448.8,197.1 448.8,196.8 448.9,196.4 449.0,196.1 449.0,195.8 449.1,195.4 449.1,195.0 449.2,194.7 449.2,194.3 449.3,193.9 449.3,193.5 449.4,193.1 449.5,192.7 449.5,192.3 449.6,191.9 449.6,191.9"/>
<polyline points="451.5,177.0 451.5,176.6 451.6,176.2 451.7,175.9 451.7,175.5 451.8,175.2 451.8,174.8 451.9,174.5 452.0,174.2 452.1,173.7 452.2,173.2 452.3,172.7 452.4,172.2 452.5,171.8 452.6,171.3 452.7,170.9 452.8,170.4 452.9,170.0 453.0,169.6 453.2,169.2 453.3,168.8 453.4,168.4 453.5,168.1 453.6,167.7 453.7,167.3 453.8,167.0 454.0,166.6 454.1,166.3 454.2,165.9 454.3,165.6 454.4,165.2 454.5,164.9 454.7,164.6 454.8,164.2 454.9,163.9 454.9,163.9"/>
<polyline points="458.3,148.8 458.4,148.4 458.5,148.0 458.5,147.6 458.6,147.2 458.7,146.8 458.8,146.4 458.8,146.0 458.9,145.6 459.0,145.2 459.1,144.8 459.2,144.4 459.2,144.0 459.3,143.6 459.4,143.2 459.5,142.8 459.6,142.4 459.6,142.0 459.7,141.6 459.8,141.2 459.9,140.8 460.0,140.5 460.0,140.1 460.1,139.7 460.2,139.3 460.3,138.9 460.4,138.5 460.4,138.1 460.5,137.7 460.6,137.3 460.7,136.9 460.8,136.5 460.9,136.1 460.9,135.7 461.0,135.3 461.1,134.9 461.1,134.9"/>
<polyline points="464.0,119.7 464.0,119.2 464.1,118.8 464.2,118.4 464.3,118.0 464.4,117.6 464.4,117.2 464.5,116.8 464.6,116.4 464.7,116.0 464.8,115.7 464.8,115.3 464.9,115.0 465.0,114.7 465.1,114.4 465.2,114.1 465.2,113.9 465.3,113.6 465.4,113.4 465.5,113.2 465.8,112.8 466.1,112.6 466.5,112.6 467.0,112.7 467.4,112.9 467.9,113.1 468.3,113.3 468.8,113.5 469.2,113.5 469.6,113.5 470.0,113.5 470.4,113.5 470.8,113.6 471.2,113.6 471.6,113.6 472.0,113.6 472.4,113.6 472.9,113.6 472.9,113.6"/>
<polyline points="483.7,118.1 483.8,118.5 483.9,119.0 483.9,119.4 484.0,119.8 484.0,120.2 484.1,120.7 484.2,121.1 484.2,121.6 484.3,122.0 484.4,122.5 484.4,123.0 484.5,123.4 484.5,123.9 484.6,124.4 484.7,124.8 484.7,125.3 484.8,125.8 484.9,126.2 484.9,126.7 485.0,127.1 485.1,127.6 485.1,128.0 485.2,128.5 485.3,128.9 485.3,129.4 485.4,129.8 485.5,130.2 485.5,130.6 485.6,131.0 485.7,131.4 485.8,131.8 485.8,132.1 485.9,132.5 485.9,132.5"/>
<polyline points="489.8,146.7 490.0,147.2 490.1,147.7 490.3,148.2 490.4,148.7 490.5,149.1 490.7,149.6 490.8,150.1 490.9,150.5 491.1,150.9 491.2,151.4 491.4,151.8 491.5,152.2 491.6,152.6 491.8,152.9 491.9,153.3 492.0,153.6 492.2,154.0 492.3,154.3 492.5,154.5 492.6,154.8 492.8,155.1 492.9,155.3 493.1,155.5 493.5,155.8 493.9,155.9 494.3,155.9 494.7,155.7 495.2,155.5 495.6,155.3 496.1,155.1 496.5,155.1 496.9,155.1 497.2,155.3 497.4,155.5"/>
<polyline points="500.5,170.5 500.8,171.0 501.1,171.2 501.4,171.4 501.8,171.4 502.2,171.4 502.6,171.3 503.1,171.3 503.5,171.3 503.9,171.5 504.3,171.7 504.6,172.1 504.7,172.3 504.9,172.6 505.0,172.9 505.2,173.1 505.3,173.5 505.4,173.8 505.6,174.1 505.7,174.5 505.8,174.9 506.0,175.2 506.1,175.6 506.2,176.0 506.4,176.4 506.5,176.8 506.6,177.3 506.7,177.7 506.9,178.1 507.0,178.6 507.1,179.0 507.2,179.4 507.4,179.9 507.4,179.9"/>
<polyline points="511.6,195.3 511.8,195.6 511.9,196.0 512.0,196.4 512.1,196.8 512.2,197.2 512.3,197.6 512.4,198.0 512.5,198.4 512.6,198.8 512.7,199.2 512.8,199.5 512.9,199.9 513.0,200.3 513.2,200.7 513.3,201.1 513.4,201.5 513.5,201.9 513.6,202.3 513.7,202.7 513.8,203.1 513.9,203.4 514.0,203.8 514.1,204.2 514.2,204.6 514.3,205.0 514.4,205.4 514.5,205.8 514.7,206.2 514.8,206.6 514.9,207.0 515.0,207.4 515.1,207.8 515.1,207.8"/>
<polyline points="521.3,222.9 521.5,223.1 522.0,223.4 522.4,223.6 522.8,223.6 523.2,223.5 523.6,223.4 524.0,223.3 524.5,223.1 524.9,223.1 525.3,223.1 525.7,223.1 526.1,223.1 526.6,223.1 527.0,223.1 527.4,223.1 527.8,223.1 528.2,223.1 528.7,223.2 529.2,223.3 529.7,223.5 530.3,223.7 530.8,223.8 531.2,223.8 531.5,223.6 531.6,223.1 531.6,222.9 531.6,222.7 531.7,222.5 531.7,222.2 531.7,222.0 531.7,221.8 531.7,221.5 531.8,221.3 531.8,221.0 531.8,220.7 531.8,220.4 531.8,220.4"/>
<polyline points="532.7,204.8 532.7,204.4 532.7,203.9 532.7,203.4 532.7,202.9 532.8,202.5 532.8,202.0 532.8,201.5 532.8,201.0 532.8,200.5 532.9,200.0 532.9,199.5 532.9,199.0 532.9,198.6 532.9,198.1 533.0,197.6 533.0,197.1 533.0,196.6 533.0,196.1 533.0,195.6 533.1,195.1 533.1,194.6 533.1,194.1 533.1,193.6 533.1,193.1 533.2,192.6 533.2,192.1 533.2,191.6 533.2,191.1 533.2,191.1"/>
<polyline points="533.9,175.7 533.9,175.2 533.9,174.8 533.9,174.4 533.9,174.0 534.0,173.6 534.0,173.2 534.0,172.8 534.0,172.4 534.0,172.0 534.1,171.6 534.1,171.2 534.1,170.8 534.1,170.4 534.1,170.1 534.2,169.7 534.2,169.4 534.2,169.0 534.2,168.7 534.2,168.3 534.2,168.0 534.3,167.7 534.3,167.3 534.3,167.0 534.3,166.7 534.3,166.4 534.4,166.1 534.4,165.8 534.4,165.5 534.4,165.3 534.4,165.0 534.5,164.7 534.5,164.5 534.5,164.2 534.5,164.0 534.5,163.8 534.6,163.5 534.6,163.3 534.6,163.1 534.7,162.7 534.9,162.2 535.3,162.0 535.9,161.8 536.4,161.9 536.9,162.2 537.3,162.6 537.4,162.8 537.5,163.1 537.7,163.3 537.8,163.7 537.9,164.0 538.0,164.4 538.1,164.8 538.3,165.2 538.4,165.7 538.5,166.1 538.7,166.6 538.8,167.1 538.9,167.5 539.1,168.0 539.2,168.5 539.3,168.9 539.4,169.4 539.6,169.8 539.7,170.3 539.8,170.7 540.0,171.1 540.1,171.4 540.2,171.7 540.3,172.0 540.5,172.3 540.6,172.5 540.8,172.7"/>
<polyline points="556.5,172.3 556.6,172.5 556.8,172.7 556.9,173.0 557.1,173.3 557.2,173.6 557.4,174.0 557.5,174.3 557.7,174.7 557.8,175.1 557.9,175.5 558.1,175.9 558.2,176.4 558.4,176.8 558.5,177.2 558.7,177.7 558.8,178.1 559.0,178.6 559.1,179.0 559.2,179.4 559.4,179.9 559.5,180.3 559.7,180.7 559.8,181.0 560.0,181.4 560.1,181.8 560.3,182.3 560.4,182.7 560.5,183.1 560.7,183.6 560.8,184.0 561.0,184.5 561.1,184.9 561.1,184.9"/>
<polyline points="573.5,189.4 573.9,189.4 574.3,189.4 574.7,189.4 575.1,189.4 575.6,189.4 576.0,189.4 576.4,189.4 576.8,189.4 577.2,189.4 577.6,189.4 578.0,189.4 578.4,189.4 578.9,189.4 579.3,189.4 579.7,189.4 580.1,189.4 580.5,189.4 580.9,189.4 581.3,189.4 581.7,189.4 582.1,189.4 582.6,189.4 583.0,189.4 583.4,189.4 583.8,189.4 584.2,189.4 584.7,189.5 585.1,189.7 585.6,189.9 586.0,190.0 586.5,190.1 586.9,190.1 587.2,189.8 587.4,189.7"/>
<polyline points="590.9,173.8 591.0,173.4 591.1,173.1 591.2,172.7 591.3,172.4 591.4,172.1 591.5,171.8 591.5,171.5 591.6,171.2 591.7,171.0 591.8,170.8 592.1,170.4 592.4,170.1 592.8,170.1 593.2,170.1 593.7,170.3 594.1,170.5 594.6,170.6 595.0,170.8 595.4,170.8 595.8,170.8 596.2,170.9 596.6,170.9 597.0,170.9 597.5,170.9 597.9,170.9 598.3,170.9 598.7,170.9 599.1,170.9 599.5,170.9 599.9,170.9 600.3,170.9 600.3,170.9"/>
<polyline points="615.8,171.1 616.2,171.1 616.6,171.1 617.0,171.1 617.4,171.1 617.8,171.1 618.2,171.1 618.6,171.1 619.0,171.1 619.5,171.1 619.9,171.1 620.3,171.1 620.7,171.2 621.1,171.2 621.5,171.2 621.9,171.3 622.3,171.4 622.7,171.4 623.1,171.5 623.5,171.5 623.9,171.4 624.3,171.3 624.6,171.1 624.9,170.9 625.2,170.7 625.4,170.5 625.7,170.2 626.0,169.9 626.2,169.6 626.5,169.3 626.8,168.9 627.0,168.5 627.3,168.2 627.6,167.8 627.6,167.8"/>
<polyline points="636.0,154.6 636.4,154.4 636.8,154.2 637.2,154.0 637.6,154.0 638.0,154.1 638.4,154.2 638.8,154.4 639.2,154.8 639.5,155.1 639.6,155.3 639.8,155.6 639.9,155.9 640.1,156.3 640.3,156.6 640.4,157.0 640.6,157.5 640.7,157.9 640.9,158.4 641.0,158.8 641.2,159.3 641.3,159.7 641.5,160.2 641.6,160.6 641.8,161.0 642.0,161.5 642.1,161.8 642.3,162.2 642.4,162.5 642.6,162.8 642.6,162.8"/>
<polyline points="658.2,164.0 658.6,163.9 659.0,163.8 659.5,163.6 659.9,163.6 660.3,163.6 660.7,163.8 661.0,164.1 661.3,164.4 661.4,164.6 661.5,164.9 661.6,165.2 661.8,165.5 661.9,165.8 662.0,166.2 662.1,166.6 662.3,167.0 662.4,167.4 662.5,167.8 662.6,168.3 662.8,168.7 662.9,169.2 663.0,169.7 663.1,170.1 663.3,170.6 663.4,171.0 663.5,171.5 663.6,172.0 663.8,172.4 663.9,172.8 664.0,173.3 664.1,173.7 664.2,173.9"/>
<polyline points="675.0,180.0 675.5,179.9 676.0,179.8 676.4,179.6 676.9,179.6 677.3,179.7 677.6,180.0 677.7,180.4 677.8,180.6 677.9,180.9 678.0,181.1 678.0,181.4 678.1,181.7 678.2,182.0 678.2,182.3 678.3,182.7 678.4,183.0 678.5,183.4 678.5,183.8 678.6,184.1 678.7,184.5 678.8,185.0 678.8,185.4 678.9,185.8 679.0,186.2 679.1,186.7 679.1,187.1 679.2,187.6 679.3,188.0 679.4,188.5 679.4,188.9 679.5,189.4 679.6,189.9 679.7,190.3 679.7,190.8 679.8,191.3 679.8,191.5"/>
<polyline points="683.5,207.0 683.6,207.3 683.7,207.7 683.8,208.1 683.9,208.5 684.0,208.8 684.1,209.2 684.2,209.6 684.3,210.0 684.4,210.4 684.5,210.8 684.6,211.2 684.8,211.5 684.9,211.9 685.0,212.3 685.1,212.7 685.2,213.1 685.3,213.5 685.4,213.9 685.5,214.3 685.6,214.6 685.7,215.0 685.8,215.4 685.9,215.8 686.0,216.2 686.1,216.6 686.2,217.0 686.4,217.3 686.5,217.7 686.6,218.1 686.7,218.5 686.8,218.9 686.8,219.1"/>
<polyline points="694.5,230.4 694.9,230.4 695.3,230.4 695.8,230.4 696.2,230.4 696.6,230.4 697.0,230.4 697.4,230.4 697.8,230.4 698.2,230.4 698.6,230.4 699.0,230.4 699.5,230.3 699.9,230.3 700.3,230.3 700.7,230.3 701.1,230.3 701.5,230.3 701.9,230.3 702.3,230.3 702.7,230.3 703.2,230.3 703.6,230.3 704.0,230.3 704.4,230.3 704.8,230.3 705.2,230.2 705.7,230.0 706.2,229.9 706.6,229.7 707.1,229.5 707.5,229.5 707.9,229.5 708.2,229.8 708.5,230.2 708.5,230.2"/>
<polyline points="711.4,245.3 711.5,245.7 711.6,246.1 711.7,246.4 711.7,246.7 711.8,247.1 711.9,247.4 712.0,247.8 712.1,248.4 712.3,248.9 712.4,249.4 712.6,249.9 712.7,250.4 712.8,250.8 713.0,251.2 713.1,251.6 713.3,252.0 713.4,252.4 713.5,252.7 713.7,253.0 713.8,253.3 714.0,253.6 714.1,253.9 714.2,254.2 714.4,254.4 714.5,254.7 714.8,255.0 715.1,255.4 715.5,255.6 715.8,255.6 716.2,255.7 716.6,255.8 716.9,256.0 717.1,256.2"/>
<polyline points="721.6,269.4 721.7,269.8 721.8,270.2 721.9,270.6 722.0,271.0 722.2,271.3 722.3,271.6 722.4,271.9 722.5,272.2 722.6,272.4 722.8,272.7 722.9,273.0 723.1,273.1 723.3,273.2 723.6,273.3 724.0,273.4 724.3,273.4 724.7,273.5 725.1,273.5 725.5,273.5 726.0,273.5 726.5,273.5 726.9,273.5 727.3,273.5 727.7,273.4 728.0,273.4 728.3,273.3 728.6,273.3 728.8,273.2 729.0,273.0 729.2,272.9 729.4,272.6 729.6,272.3 729.8,272.0 730.0,271.6 730.2,271.1 730.5,270.7 730.6,270.5"/>
<polyline points="736.6,273.0 737.0,273.0 737.4,273.0 737.8,272.9 738.2,272.8 738.6,272.7 739.0,272.7 739.5,272.7 739.9,272.8 740.3,273.0 740.7,273.1 741.1,273.2 741.5,273.2 742.0,273.1 742.4,272.8 742.7,272.5 742.9,272.3 743.0,272.0 743.2,271.7 743.4,271.3 743.6,271.0 743.8,270.6 744.0,270.2 744.2,269.7 744.4,269.3 744.6,268.8 744.8,268.4 744.9,267.9 745.1,267.5 745.2,267.3"/>
<polyline points="758.5,264.3 758.9,264.3 759.3,264.3 759.7,264.3 760.1,264.3 760.5,264.3 760.9,264.3 761.4,264.2 761.8,264.2 762.2,264.2 762.6,264.2 763.0,264.2 763.4,264.2 763.8,264.2 764.2,264.2 764.6,264.2 765.1,264.2 765.5,264.2 765.9,264.2 766.3,264.2 766.7,264.2 767.1,264.2 767.5,264.2 767.9,264.2 768.4,264.2 768.8,264.2 769.2,264.2 769.6,264.2 770.0,264.2 770.4,264.2 770.8,264.1 771.2,264.1 771.6,264.0 772.0,263.9 772.4,263.9 772.8,264.0 773.3,264.1 773.3,264.1"/>
<polyline points="781.9,273.2 782.1,273.3 782.4,273.5 782.8,273.5 783.2,273.5 783.6,273.4 783.9,273.2 784.3,272.9 784.6,272.5 784.9,272.1 785.1,271.6 785.3,271.0 785.4,270.8 785.4,270.5 785.5,270.3 785.5,270.0 785.6,269.7 785.6,269.4 785.7,269.0 785.7,268.7 785.8,268.3 785.9,268.0 785.9,267.6 786.0,267.2 786.0,266.8 786.1,266.4 786.1,266.0 786.2,265.5 786.3,265.1 786.3,264.6 786.4,264.2 786.4,263.7 786.5,263.3 786.6,262.8 786.6,262.3 786.7,261.8 786.7,261.6"/>
<polyline points="788.6,247.3 788.8,247.3 789.0,247.4 789.3,247.5 789.7,247.6 790.0,247.7 790.3,247.7 790.7,247.7 791.1,247.7 791.6,247.7 792.0,247.7 792.4,247.7 792.9,247.8 793.3,247.8 793.8,247.8 794.3,247.8 794.7,247.8 795.0,247.8 795.3,247.8 795.3,247.8"/>
</g></g>
<text transform="translate(50.60,30.85) scale(0.808,1)" text-anchor="end">250</text>
<text transform="translate(50.60,113.76) scale(0.808,1)" text-anchor="end">200</text>
<text transform="translate(50.60,197.27) scale(0.808,1)" text-anchor="end">150</text>
<text transform="translate(50.60,280.78) scale(0.808,1)" text-anchor="end">100</text>
<text transform="translate(50.60,364.29) scale(0.808,1)" text-anchor="end">50</text>
<text transform="translate(50.60,447.80) scale(0.808,1)" text-anchor="end">0</text>
<text transform="translate(74.30,480.60) scale(0.838,1)" text-anchor="middle">Aug-20</text>
<text transform="translate(165.50,480.60) scale(0.828,1)" text-anchor="middle">Feb-21</text>
<text transform="translate(255.40,480.60) scale(0.838,1)" text-anchor="middle">Aug-21</text>
<text transform="translate(346.40,480.60) scale(0.828,1)" text-anchor="middle">Feb-22</text>
<text transform="translate(436.30,480.60) scale(0.838,1)" text-anchor="middle">Aug-22</text>
<text transform="translate(527.00,480.60) scale(0.828,1)" text-anchor="middle">Feb-23</text>
<text transform="translate(616.80,480.60) scale(0.838,1)" text-anchor="middle">Aug-23</text>
<text transform="translate(707.50,480.60) scale(0.828,1)" text-anchor="middle">Feb-24</text>
<g fill="none" stroke-linecap="round" stroke-width="4.3">
<line x1="145.8" y1="35.25" x2="229.9" y2="35.25" stroke="#4F81BD"/>
<line x1="145.8" y1="70.55" x2="229.9" y2="70.55" stroke="#000"/>
<line x1="145.8" y1="106.0" x2="229.9" y2="106.0" stroke="#A6A6A6"/>
<line x1="145.8" y1="141.3" x2="158.4" y2="141.3" stroke="#000"/>
<line x1="174.9" y1="141.3" x2="187.5" y2="141.3" stroke="#000"/>
<line x1="204.0" y1="141.3" x2="216.6" y2="141.3" stroke="#000"/>
</g>
<text transform="translate(239.00,43.80) scale(0.835,1)" text-anchor="start">Credit Card</text>
<text transform="translate(239.00,78.60) scale(0.835,1)" text-anchor="start">Prime Auto</text>
<text transform="translate(239.00,114.20) scale(0.835,1)" text-anchor="start">FFELP SL</text>
<text transform="translate(239.00,148.90) scale(0.828,1)" text-anchor="start">Private Credit SL</text>
</svg></body></html>
